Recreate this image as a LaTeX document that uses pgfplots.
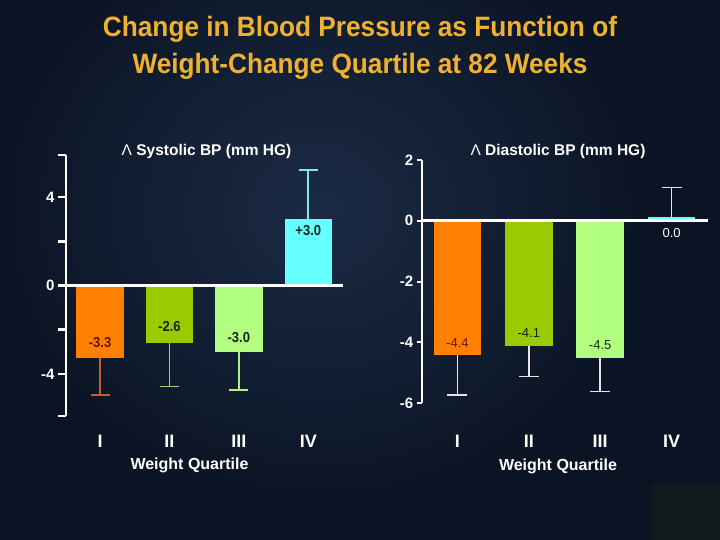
\documentclass[border=0pt]{standalone}
\usepackage{fontspec}
\setmainfont{Liberation Sans}
\usepackage{pgfplots}
\pgfplotsset{compat=1.18}
\definecolor{bgc}{HTML}{0B1424}
\definecolor{glow}{HTML}{1B2B45}
\definecolor{titlec}{HTML}{F0B030}
\definecolor{barI}{HTML}{FF7F00}
\definecolor{barII}{HTML}{99CC00}
\definecolor{barIII}{HTML}{B2FF80}
\definecolor{barIV}{HTML}{66FFFF}
\definecolor{errI}{HTML}{C0602A}
\definecolor{errII}{HTML}{A8D070}
\definecolor{errIII}{HTML}{B0F088}
\definecolor{errIV}{HTML}{80E8E8}
\definecolor{errW}{HTML}{E6E6E6}
\definecolor{lblred}{HTML}{701010}
\definecolor{lbldark}{HTML}{1A2418}
\definecolor{cornerc}{HTML}{101B1B}
\newcommand{\fs}[1]{\fontsize{#1}{#1}\selectfont}
\begin{document}
\begin{tikzpicture}
\useasboundingbox (0pt,0pt) rectangle (720pt,540pt);
\fill[bgc] (0pt,0pt) rectangle (720pt,540pt);
\begin{scope}
\clip (0pt,0pt) rectangle (720pt,540pt);
\shade[inner color=glow, outer color=bgc] (320pt,330pt) ellipse [x radius=330pt, y radius=300pt];
\end{scope}
\fill[cornerc] (652pt,0pt) rectangle (720pt,56pt);

% title
\node[text=titlec, font=\bfseries\fs{28}] at (360pt,511pt) {\scalebox{0.936}[1]{Change in Blood Pressure as Function of}};
\node[text=titlec, font=\bfseries\fs{28}] at (360pt,474pt) {\scalebox{0.936}[1]{Weight-Change Quartile at 82 Weeks}};

% panel titles
\node[white, font=\bfseries\fs{15.5}] at (206.5pt,388pt) {\textmd{Λ} Systolic BP (mm HG)};
\node[white, font=\bfseries\fs{15.5}] at (558pt,389pt) {\textmd{Λ} Diastolic BP (mm HG)};
\node[white, font=\bfseries\fs{16}] at (189.5pt,75pt) {Weight Quartile};
\node[white, font=\bfseries\fs{16}] at (558pt,74pt) {Weight Quartile};

% ---------- Systolic ----------
\begin{axis}[
  at={(66pt,124pt)}, anchor=south west,
  scale only axis, width=277pt, height=261pt,
  xmin=-0.49, xmax=3.5, ymin=-5.9, ymax=5.9,
  clip=false,
  axis lines*=left,
  x axis line style={draw=none},
  y axis line style={white, line width=2.5pt},
  xtick={0,1,2,3}, xticklabels={I,II,III,IV},
  xtick style={draw=none},
  xticklabel style={white, font=\bfseries\fs{18}, anchor=center, yshift=-17pt},
  ytick={-5.9,-4,-2,0,2,4,5.9},
  yticklabels={{},{-4},{},{0},{},{4},{}},
  tick align=outside, major tick length=8pt,
  ytick style={white, line width=2.5pt},
  yticklabel style={white, font=\bfseries\fs{15}},
]
\addplot[ybar, bar width=47.5pt, fill=barI, draw=none,
  error bars/.cd, y dir=minus, y explicit,
  error bar style={errI, line width=1.6pt},
  error mark options={rotate=90, errI, line width=1.6pt, mark size=9.5pt}]
  coordinates {(0,-3.3) +- (0,1.64)};
\addplot[ybar, bar width=47.5pt, fill=barII, draw=none,
  error bars/.cd, y dir=minus, y explicit,
  error bar style={errII, line width=1.6pt},
  error mark options={rotate=90, errII, line width=1.6pt, mark size=9.5pt}]
  coordinates {(1,-2.6) +- (0,1.97)};
\addplot[ybar, bar width=47.5pt, fill=barIII, draw=none,
  error bars/.cd, y dir=minus, y explicit,
  error bar style={errIII, line width=1.6pt},
  error mark options={rotate=90, errIII, line width=1.6pt, mark size=9.5pt}]
  coordinates {(2,-3.0) +- (0,1.73)};
\addplot[ybar, bar width=47.5pt, fill=barIV, draw=none,
  error bars/.cd, y dir=plus, y explicit,
  error bar style={errIV, line width=1.6pt},
  error mark options={rotate=90, errIV, line width=1.6pt, mark size=9.5pt}]
  coordinates {(3,3.0) +- (0,2.21)};
\draw[white, line width=3pt] (axis cs:-0.49,0) -- (axis cs:3.5,0);
\node[text=lblred, font=\bfseries\fs{14.5}] at (axis cs:0,-3.3) [yshift=15.5pt] {\scalebox{0.9}[1]{-3.3}};
\node[text=lbldark, font=\bfseries\fs{14.5}] at (axis cs:1,-2.6) [yshift=16pt] {\scalebox{0.9}[1]{-2.6}};
\node[text=lbldark, font=\bfseries\fs{14.5}] at (axis cs:2,-3.0) [yshift=14pt] {\scalebox{0.9}[1]{-3.0}};
\node[text=lbldark, font=\bfseries\fs{14.5}] at (axis cs:3,3.0) [yshift=-11pt] {\scalebox{0.9}[1]{+3.0}};
\end{axis}

% ---------- Diastolic ----------
\begin{axis}[
  at={(421.7pt,136.7pt)}, anchor=south west,
  scale only axis, width=286.3pt, height=243.3pt,
  xmin=-0.5, xmax=3.51, ymin=-6, ymax=2,
  clip=false,
  axis lines*=left,
  x axis line style={draw=none},
  y axis line style={white, line width=2pt},
  xtick={0,1,2,3}, xticklabels={I,II,III,IV},
  xtick style={draw=none},
  xticklabel style={white, font=\bfseries\fs{18}, anchor=center, yshift=-33.5pt},
  ytick={-6,-4,-2,0,2},
  yticklabels={{-6},{-4},{-2},{0},{2}},
  tick align=outside, major tick length=5pt,
  ytick style={white, line width=2pt},
  yticklabel style={white, font=\bfseries\fs{15}},
]
\addplot[ybar, bar width=47.5pt, fill=barI, draw=none,
  error bars/.cd, y dir=minus, y explicit,
  error bar style={errW, line width=1.6pt},
  error mark options={rotate=90, errW, line width=1.6pt, mark size=10pt}]
  coordinates {(0,-4.4) +- (0,1.32)};
\addplot[ybar, bar width=47.5pt, fill=barII, draw=none,
  error bars/.cd, y dir=minus, y explicit,
  error bar style={errW, line width=1.6pt},
  error mark options={rotate=90, errW, line width=1.6pt, mark size=10pt}]
  coordinates {(1,-4.1) +- (0,1.02)};
\addplot[ybar, bar width=47.5pt, fill=barIII, draw=none,
  error bars/.cd, y dir=minus, y explicit,
  error bar style={errW, line width=1.6pt},
  error mark options={rotate=90, errW, line width=1.6pt, mark size=10pt}]
  coordinates {(2,-4.5) +- (0,1.11)};
\addplot[ybar, bar width=47.5pt, fill=barIV, draw=none,
  error bars/.cd, y dir=plus, y explicit,
  error bar style={errW, line width=1.6pt},
  error mark options={rotate=90, errW, line width=1.6pt, mark size=10pt}]
  coordinates {(3,0.13) +- (0,0.97)};
\draw[white, line width=3pt] (axis cs:-0.5,0) -- (axis cs:3.51,0);
\node[text=lblred, font=\fs{13}] at (axis cs:0,-4.4) [yshift=12pt] {-4.4};
\node[text=lbldark, font=\fs{13}] at (axis cs:1,-4.1) [yshift=12pt] {-4.1};
\node[text=lbldark, font=\fs{13}] at (axis cs:2,-4.5) [yshift=12.5pt] {-4.5};
\node[white, font=\fs{13}] at (axis cs:3,0.13) [yshift=-16.5pt] {0.0};
\end{axis}
\end{tikzpicture}
\end{document}
